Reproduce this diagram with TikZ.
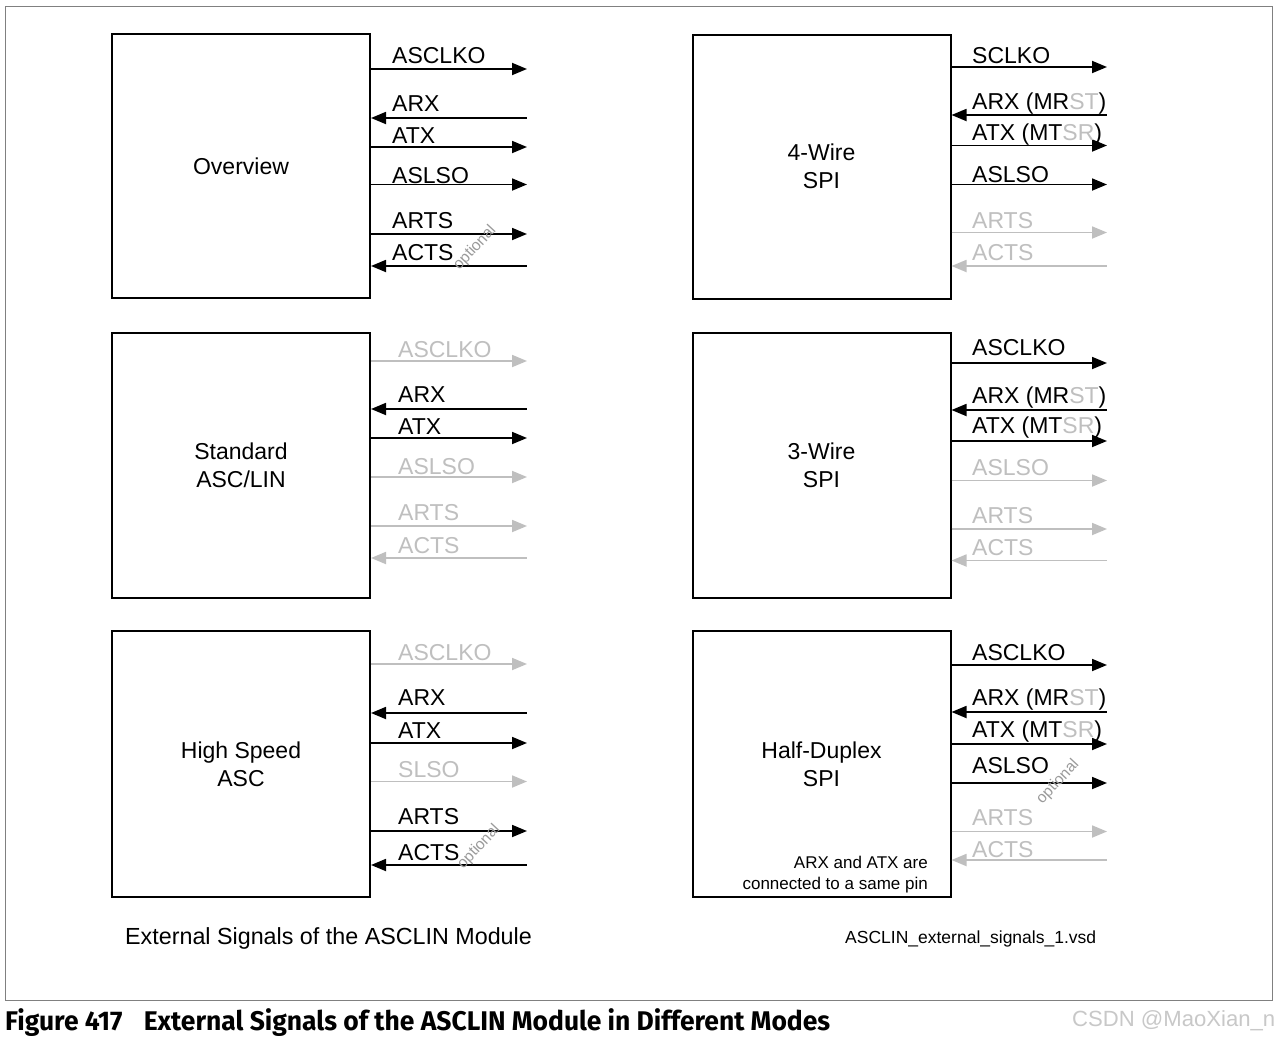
\documentclass[tikz,border=0pt]{standalone}
\usepackage{fontspec}
\setmainfont{Liberation Sans}
\newfontfamily\capfont{Fira Sans}
\usetikzlibrary{arrows.meta}
\definecolor{inact}{HTML}{BFBFBF}
\definecolor{optc}{HTML}{9A9A9A}
\definecolor{framec}{HTML}{808080}
\definecolor{wmark}{HTML}{C8C8C8}
\newcommand\sigO[6]{%
  \coordinate (#1-#2) at (\ex,#3);
  \draw[#5line,-{Triangle[length=15pt,width=12pt]}] (#1.east |- #1-#2) -- (#1-#2);
  \node[#5txt,anchor=base west] (#1-#2-t) at (\lx,#4) {#6};}
\newcommand\sigI[6]{%
  \coordinate (#1-#2) at (\ex,#3);
  \draw[#5line,{Triangle[length=15pt,width=12pt]}-] (#1.east |- #1-#2) -- (#1-#2);
  \node[#5txt,anchor=base west] (#1-#2-t) at (\lx,#4) {#6};}
\newcommand\gr[1]{\textcolor{inact}{#1}}
\begin{document}
\begin{tikzpicture}[x=1pt,y=-1pt,
  modbox/.style={draw=black,line width=2pt,minimum width=258pt,inner sep=0pt,
     align=center,font=\fontsize{23}{28}\selectfont},
  actline/.style={draw=black,line width=1.8pt},
  inaline/.style={draw=inact,line width=1.8pt},
  acttxt/.style={inner sep=0pt,text=black,font=\fontsize{23}{27}\selectfont},
  inatxt/.style={inner sep=0pt,text=inact,font=\fontsize{23}{27}\selectfont},
  opt/.style={inner sep=0pt,text=optc,rotate=47,font=\fontsize{15.5}{18}\selectfont}]
\useasboundingbox (0,0) rectangle (1280,1039);
\fill[white] (0,0) rectangle (1280,1039);
\draw[framec,line width=1pt] (5,6) rectangle (1272,1000);

% boxes
\node[modbox,minimum height=264pt] (ov) at (241,166) {Overview};
\node[modbox,minimum height=264pt] (w4) at (821.5,166.5) {4-Wire\\SPI};
\node[modbox,minimum height=265pt] (std) at (241,465.5) {Standard\\ASC/LIN};
\node[modbox,minimum height=265pt] (w3) at (821.5,465.5) {3-Wire\\SPI};
\node[modbox,minimum height=266pt] (hs) at (241,764) {High Speed\\ASC};
\node[modbox,minimum height=266pt] (hd) at (821.5,764) {Half-Duplex\\SPI};

% Overview
\def\ex{527}\def\lx{392}
\sigO{ov}{asclko}{69}{63}{act}{ASCLKO}
\sigI{ov}{arx}{118}{111.5}{act}{ARX}
\sigO{ov}{atx}{147}{143.5}{act}{ATX}
\sigO{ov}{aslso}{184.5}{183}{act}{ASLSO}
\sigO{ov}{arts}{234}{228}{act}{ARTS}
\sigI{ov}{acts}{266}{260}{act}{ACTS}
\node[opt] (ov-opt) at (475,248) {optional};

% 4-Wire SPI
\def\ex{1107}\def\lx{972}
\sigO{w4}{sclko}{67}{63}{act}{SCLKO}
\sigI{w4}{arx}{115}{109.5}{act}{ARX (MR\gr{ST})}
\sigO{w4}{atx}{145.5}{140.5}{act}{ATX (MT\gr{SR})}
\sigO{w4}{aslso}{184.5}{182}{act}{ASLSO}
\sigO{w4}{arts}{232.5}{228}{ina}{ARTS}
\sigI{w4}{acts}{266}{260}{ina}{ACTS}

% Standard ASC/LIN
\def\ex{527}\def\lx{398}
\sigO{std}{asclko}{361}{357}{ina}{ASCLKO}
\sigI{std}{arx}{409}{402}{act}{ARX}
\sigO{std}{atx}{438}{434}{act}{ATX}
\sigO{std}{aslso}{477}{474}{ina}{ASLSO}
\sigO{std}{arts}{526}{520}{ina}{ARTS}
\sigI{std}{acts}{558}{553}{ina}{ACTS}

% 3-Wire SPI
\def\ex{1107}\def\lx{972}
\sigO{w3}{asclko}{363}{355}{act}{ASCLKO}
\sigI{w3}{arx}{410}{403}{act}{ARX (MR\gr{ST})}
\sigO{w3}{atx}{441}{433}{act}{ATX (MT\gr{SR})}
\sigO{w3}{aslso}{480.5}{475}{ina}{ASLSO}
\sigO{w3}{arts}{529}{523}{ina}{ARTS}
\sigI{w3}{acts}{560.5}{555}{ina}{ACTS}

% High Speed ASC
\def\ex{527}\def\lx{398}
\sigO{hs}{asclko}{664}{660}{ina}{ASCLKO}
\sigI{hs}{arx}{713}{705}{act}{ARX}
\sigO{hs}{atx}{743}{738}{act}{ATX}
\sigO{hs}{slso}{781.5}{777}{ina}{SLSO}
\sigO{hs}{arts}{831}{824}{act}{ARTS}
\sigI{hs}{acts}{865}{860}{act}{ACTS}
\node[opt] (hs-opt) at (479,847) {optional};

% Half-Duplex SPI
\def\ex{1107}\def\lx{972}
\sigO{hd}{asclko}{665}{660}{act}{ASCLKO}
\sigI{hd}{arx}{712}{705}{act}{ARX (MR\gr{ST})}
\sigO{hd}{atx}{744}{737}{act}{ATX (MT\gr{SR})}
\sigO{hd}{aslso}{783}{773}{act}{ASLSO}
\sigO{hd}{arts}{831.5}{825}{ina}{ARTS}
\sigI{hd}{acts}{860}{857}{ina}{ACTS}
\node[opt] (hd-opt) at (1058,782) {optional};
\node[inner sep=0pt,anchor=base east,align=right,font=\fontsize{17}{21}\selectfont]
  (hd-note) at (928,889) {ARX and ATX are\\connected to a same pin};

% footer texts
\node[inner sep=0pt,anchor=base west,font=\fontsize{23.3}{27}\selectfont]
  (title) at (125,944) {External Signals of the ASCLIN Module};
\node[inner sep=0pt,anchor=base west,font=\fontsize{17.5}{20}\selectfont]
  (fname) at (845,943) {ASCLIN\_external\_signals\_1.vsd};
\node[inner sep=0pt,anchor=base west,font=\capfont\bfseries\fontsize{27}{30}\selectfont]
  (caption) at (5,1030) {\resizebox{825pt}{\height}{Figure 417\hspace{0.8em}External Signals of the ASCLIN Module in Different Modes}};
\node[inner sep=0pt,anchor=base west,text=wmark,font=\fontsize{22}{26}\selectfont]
  (wm) at (1072,1026) {\resizebox{203pt}{\height}{CSDN @MaoXian\_n}};
\end{tikzpicture}
\end{document}
